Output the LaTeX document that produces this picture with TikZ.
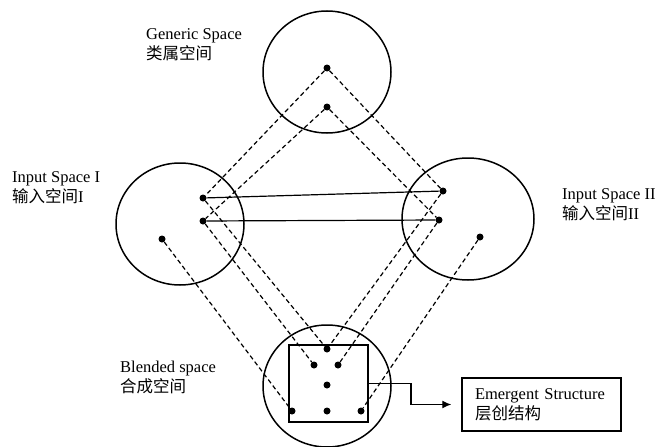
\documentclass[tikz,border=0pt]{standalone}
\usepackage{fontspec}
\setmainfont{Liberation Serif}
\newfontfamily\cjk{Noto Sans CJK SC}
\usetikzlibrary{arrows}
\usetikzlibrary{arrows.meta}
\usetikzlibrary{positioning}
\usetikzlibrary{shapes.geometric}
\tikzstyle{every node}+=[inner sep=0pt]
\tikzstyle{space} = [ellipse, draw, line width=1.5pt, minimum width=128pt, minimum height=122pt]
\tikzstyle{dot} = [circle, fill, minimum size=7pt]
\tikzstyle{map} = [draw, line width=1.2pt, dash pattern=on 4.5pt off 3pt]
\tikzstyle{link} = [draw, line width=1.2pt]
\tikzstyle{line} = [draw, line width=1.2pt, -{Latex[length=9pt, width=8pt]}]
\tikzstyle{spacename} = [font=\fontsize{16.5}{20}\selectfont, align=left, anchor=base west]

\begin{document}
\begin{tikzpicture}[x=1pt, y=-1pt]
            \path [use as bounding box] (0,0) rectangle (657,447);
            % Place nodes
            \node [space] (gen) at (327,72) {};
            \node [dot] (g1) at (327,68) {};
            \node [dot] (g2) at (327,107) {};
            \node [space] (in1) at (180,224) {};
            \node [dot] (a1) at (203,198) {};
            \node [dot] (a2) at (203,221) {};
            \node [dot] (a3) at (162,239) {};
            \node [space, minimum width=132pt] (in2) at (468,219) {};
            \node [dot] (b1) at (443,191) {};
            \node [dot] (b2) at (439,220) {};
            \node [dot] (b3) at (480,237) {};
            \node [space] (bl) at (327,386) {};
            \node [draw, line width=1.5pt, minimum width=79pt, minimum height=77pt] (sq) at (328.5,383.5) {};
            \node [dot] (c1) at (327,349) {};
            \node [dot] (c2) at (314,365) {};
            \node [dot] (c3) at (338,365) {};
            \node [dot] (c4) at (327,385) {};
            \node [dot] (c5) at (292,411) {};
            \node [dot] (c6) at (327,411) {};
            \node [dot] (c7) at (361,411) {};
            \node [draw, line width=1.5pt, minimum height=53pt, inner xsep=13pt, text width=133pt, align=left, font=\fontsize{16.5}{20}\selectfont] (emg) at (541.5,404.5) {Emergent Structure\\{\cjk 层创结构}};
            % Labels
            \node [spacename] (tgen) at (146,59) {Generic Space\\{\cjk 类属空间}};
            \node [spacename] (tin1) at (12,202) {Input Space I\\{\cjk 输入空间}I};
            \node [spacename] (tin2) at (562,219) {Input Space II\\{\cjk 输入空间}II};
            \node [spacename] (tbl) at (120,392) {Blended space\\{\cjk 合成空间}};
            % Draw edges
            \path [map] (g1) -- (a1);
            \path [map] (g1) -- (b1);
            \path [map] (g2) -- (a2);
            \path [map] (g2) -- (b2);
            \path [map] (a1) -- (c1);
            \path [map] (a2) -- (c2);
            \path [map] (a3) -- (c5);
            \path [map] (b1) -- (c1);
            \path [map] (b2) -- (c3);
            \path [map] (b3) -- (c7);
            \path [link] (a1) -- (b1);
            \path [link] (a2) -- (b2);
            \coordinate (bend) at (411,383.5);
            \path [line, shorten >=10pt] (sq.east) -- (bend) |- (emg.west);
\end{tikzpicture}
\end{document}
